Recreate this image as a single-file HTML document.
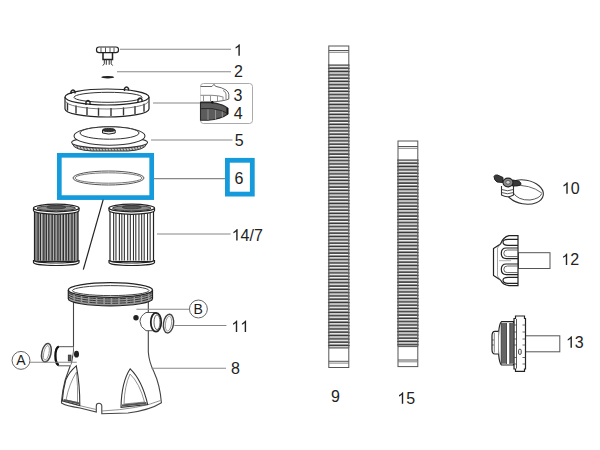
<!DOCTYPE html><html><head><meta charset="utf-8"><style>html,body{margin:0;padding:0;background:#fff;width:600px;height:450px;overflow:hidden}svg{display:block}</style></head><body>
<svg width="600" height="450" viewBox="0 0 600 450">
<rect width="600" height="450" fill="#fff"/>
<path d="M103 52.5 V59.5 H112.5 V52.5" fill="#fff" stroke="#222" stroke-width="1.5"/>
<path d="M104.3 59.5 V63.8 L102.8 65.6 M106.3 59.5 V64.8 M109.2 59.5 V64.8 M111.2 59.5 V63.8 L112.7 65.6" stroke="#333" stroke-width="1" fill="none"/>
<rect x="96.5" y="47" width="22" height="5.6" rx="2.6" fill="#fff" stroke="#222" stroke-width="1.2"/>
<line x1="101" y1="47.5" x2="101" y2="52" stroke="#444" stroke-width="0.9"/>
<line x1="105.5" y1="47.5" x2="105.5" y2="52" stroke="#444" stroke-width="0.9"/>
<line x1="110" y1="47.5" x2="110" y2="52" stroke="#444" stroke-width="0.9"/>
<line x1="114" y1="47.5" x2="114" y2="52" stroke="#444" stroke-width="0.9"/>
<ellipse cx="107.7" cy="77.2" rx="6.4" ry="1.3" fill="#222"/>
<path d="M65 97 V109 A42 8 0 0 0 149 109 V97" fill="#fff" stroke="#222" stroke-width="1.2"/>
<line x1="67.5" y1="102.7" x2="67.5" y2="110.7" stroke="#333" stroke-width="1.4"/>
<line x1="76" y1="105.4" x2="76" y2="113.4" stroke="#333" stroke-width="1.4"/>
<line x1="87" y1="107.0" x2="87" y2="115.0" stroke="#333" stroke-width="1.4"/>
<line x1="98.5" y1="107.8" x2="98.5" y2="115.8" stroke="#333" stroke-width="1.4"/>
<line x1="111" y1="108.0" x2="111" y2="116.0" stroke="#333" stroke-width="1.4"/>
<line x1="123.5" y1="107.4" x2="123.5" y2="115.4" stroke="#333" stroke-width="1.4"/>
<line x1="135" y1="106.0" x2="135" y2="114.0" stroke="#333" stroke-width="1.4"/>
<line x1="144" y1="103.8" x2="144" y2="111.8" stroke="#333" stroke-width="1.4"/>
<path d="M65.5 101 A41.5 8 0 0 0 148.5 101" fill="none" stroke="#555" stroke-width="0.8"/>
<ellipse cx="107" cy="97" rx="42" ry="8" fill="#fff" stroke="#222" stroke-width="1.2"/>
<ellipse cx="108" cy="97.3" rx="34" ry="5" fill="#fff" stroke="#333" stroke-width="1"/>
<path d="M71 94 V91.5 Q73 88.5 75 91.5 V93.5 M124.5 91 V88.5 Q126.5 85.5 128.5 88.5 V90.5 M138 102 V99.5 Q140 96.5 142 99.5 V101 M86 105 V102 Q88 99 90 102 V104.5" stroke="#222" stroke-width="1.4" fill="none"/>
<rect x="200.5" y="83.5" width="52" height="40" rx="3" fill="none" stroke="#aaa" stroke-width="1"/>
<path d="M200.5 86.5 H212 L214 84.3 L215.5 86.3 Q222 87.5 226 90 Q228.8 92 228.8 94.5 V99 Q226 100.3 222 100.8 L215 101.8 H200.5" fill="#fff" stroke="#666" stroke-width="1"/>
<path d="M200.5 95.3 H212 Q220 95.6 223.5 97.2 M223 90.5 Q225.5 91 226 94 V99.5" stroke="#777" stroke-width="0.9" fill="none"/>
<path d="M203.5 95.5 V101.5 M210.5 95.5 V101.5 M217.5 96 V101.3 M223 97.5 V100.8" stroke="#888" stroke-width="0.9" fill="none"/>
<path d="M200.5 102.6 H211 Q222 103.6 227.5 108 V114.2 Q221 119 208 120.3 H200.5 Z" fill="#5c5c5c" stroke="#2a2a2a" stroke-width="1.1"/>
<path d="M227.5 108 V114.2" stroke="#111" stroke-width="2"/>
<path d="M200.5 108.6 H212 Q222 110 227 113" stroke="#2a2a2a" stroke-width="1" fill="none"/>
<path d="M208 109.3 V120 M215.5 110 V119.6 M222.3 111.5 V117.5" stroke="#9a9a9a" stroke-width="0.9" fill="none"/>
<circle cx="212.3" cy="102.3" r="1.2" fill="#111"/>
<clipPath id="skirt"><path d="M72.5 144 Q74 150 92 151 H128 Q145 150 146.5 144 Z"/></clipPath>
<path d="M72.5 144 Q74 150 92 151 H128 Q145 150 146.5 144 Z" fill="#c4c4c4" stroke="#333" stroke-width="1"/>
<g clip-path="url(#skirt)"><line x1="70" y1="144" x2="73" y2="151" stroke="#444" stroke-width="0.8"/><line x1="73" y1="144" x2="76" y2="151" stroke="#444" stroke-width="0.8"/><line x1="76" y1="144" x2="79" y2="151" stroke="#444" stroke-width="0.8"/><line x1="79" y1="144" x2="82" y2="151" stroke="#444" stroke-width="0.8"/><line x1="82" y1="144" x2="85" y2="151" stroke="#444" stroke-width="0.8"/><line x1="85" y1="144" x2="88" y2="151" stroke="#444" stroke-width="0.8"/><line x1="88" y1="144" x2="91" y2="151" stroke="#444" stroke-width="0.8"/><line x1="91" y1="144" x2="94" y2="151" stroke="#444" stroke-width="0.8"/><line x1="94" y1="144" x2="97" y2="151" stroke="#444" stroke-width="0.8"/><line x1="97" y1="144" x2="100" y2="151" stroke="#444" stroke-width="0.8"/><line x1="100" y1="144" x2="103" y2="151" stroke="#444" stroke-width="0.8"/><line x1="103" y1="144" x2="106" y2="151" stroke="#444" stroke-width="0.8"/><line x1="106" y1="144" x2="109" y2="151" stroke="#444" stroke-width="0.8"/><line x1="109" y1="144" x2="112" y2="151" stroke="#444" stroke-width="0.8"/><line x1="112" y1="144" x2="115" y2="151" stroke="#444" stroke-width="0.8"/><line x1="115" y1="144" x2="118" y2="151" stroke="#444" stroke-width="0.8"/><line x1="118" y1="144" x2="121" y2="151" stroke="#444" stroke-width="0.8"/><line x1="121" y1="144" x2="124" y2="151" stroke="#444" stroke-width="0.8"/><line x1="124" y1="144" x2="127" y2="151" stroke="#444" stroke-width="0.8"/><line x1="127" y1="144" x2="130" y2="151" stroke="#444" stroke-width="0.8"/><line x1="130" y1="144" x2="133" y2="151" stroke="#444" stroke-width="0.8"/><line x1="133" y1="144" x2="136" y2="151" stroke="#444" stroke-width="0.8"/><line x1="136" y1="144" x2="139" y2="151" stroke="#444" stroke-width="0.8"/><line x1="139" y1="144" x2="142" y2="151" stroke="#444" stroke-width="0.8"/><line x1="142" y1="144" x2="145" y2="151" stroke="#444" stroke-width="0.8"/><line x1="145" y1="144" x2="148" y2="151" stroke="#444" stroke-width="0.8"/></g>
<ellipse cx="109.6" cy="142.5" rx="38" ry="5.8" fill="#fff" stroke="#333" stroke-width="1.1"/>
<ellipse cx="109.5" cy="136" rx="35.5" ry="9.2" fill="#fff" stroke="#333" stroke-width="1.1"/>
<ellipse cx="109.5" cy="133" rx="29.5" ry="6.2" fill="#fff" stroke="#333" stroke-width="1"/>
<path d="M102.5 130 V133 Q108.8 135.2 115.2 133 V130" fill="#eee" stroke="#222" stroke-width="1"/>
<ellipse cx="108.8" cy="130" rx="6.3" ry="1.6" fill="#333" stroke="#222" stroke-width="0.9"/>
<rect x="59.3" y="155.3" width="92.4" height="42.3" fill="none" stroke="#159bdb" stroke-width="4.7"/>
<rect x="227.4" y="160.3" width="24.9" height="33.8" fill="none" stroke="#159bdb" stroke-width="4.8"/>
<ellipse cx="108.5" cy="178" rx="35.5" ry="7" fill="none" stroke="#555" stroke-width="1"/>
<ellipse cx="108.5" cy="178" rx="33.5" ry="5.2" fill="none" stroke="#666" stroke-width="0.9"/>
<rect x="34.5" y="209" width="43.5" height="52.5" fill="#858585" stroke="#222" stroke-width="1.2"/>
<line x1="39.23" y1="211" x2="39.23" y2="260.5" stroke="#c4c4c4" stroke-width="0.9"/>
<line x1="38.13" y1="211" x2="38.13" y2="260.5" stroke="#2a2a2a" stroke-width="1.1"/>
<line x1="41.57" y1="211" x2="41.57" y2="260.5" stroke="#c4c4c4" stroke-width="0.9"/>
<line x1="40.47" y1="211" x2="40.47" y2="260.5" stroke="#2a2a2a" stroke-width="1.1"/>
<line x1="45.00" y1="211" x2="45.00" y2="260.5" stroke="#c4c4c4" stroke-width="0.9"/>
<line x1="43.90" y1="211" x2="43.90" y2="260.5" stroke="#2a2a2a" stroke-width="1.1"/>
<line x1="47.43" y1="211" x2="47.43" y2="260.5" stroke="#c4c4c4" stroke-width="0.9"/>
<line x1="46.33" y1="211" x2="46.33" y2="260.5" stroke="#2a2a2a" stroke-width="1.1"/>
<line x1="49.97" y1="211" x2="49.97" y2="260.5" stroke="#c4c4c4" stroke-width="0.9"/>
<line x1="48.87" y1="211" x2="48.87" y2="260.5" stroke="#2a2a2a" stroke-width="1.1"/>
<line x1="53.30" y1="211" x2="53.30" y2="260.5" stroke="#c4c4c4" stroke-width="0.9"/>
<line x1="52.20" y1="211" x2="52.20" y2="260.5" stroke="#2a2a2a" stroke-width="1.1"/>
<line x1="55.93" y1="211" x2="55.93" y2="260.5" stroke="#c4c4c4" stroke-width="0.9"/>
<line x1="54.83" y1="211" x2="54.83" y2="260.5" stroke="#2a2a2a" stroke-width="1.1"/>
<line x1="59.07" y1="211" x2="59.07" y2="260.5" stroke="#c4c4c4" stroke-width="0.9"/>
<line x1="57.97" y1="211" x2="57.97" y2="260.5" stroke="#2a2a2a" stroke-width="1.1"/>
<line x1="61.40" y1="211" x2="61.40" y2="260.5" stroke="#c4c4c4" stroke-width="0.9"/>
<line x1="60.30" y1="211" x2="60.30" y2="260.5" stroke="#2a2a2a" stroke-width="1.1"/>
<line x1="64.53" y1="211" x2="64.53" y2="260.5" stroke="#c4c4c4" stroke-width="0.9"/>
<line x1="63.43" y1="211" x2="63.43" y2="260.5" stroke="#2a2a2a" stroke-width="1.1"/>
<line x1="67.27" y1="211" x2="67.27" y2="260.5" stroke="#c4c4c4" stroke-width="0.9"/>
<line x1="66.17" y1="211" x2="66.17" y2="260.5" stroke="#2a2a2a" stroke-width="1.1"/>
<line x1="69.80" y1="211" x2="69.80" y2="260.5" stroke="#c4c4c4" stroke-width="0.9"/>
<line x1="68.70" y1="211" x2="68.70" y2="260.5" stroke="#2a2a2a" stroke-width="1.1"/>
<line x1="73.13" y1="211" x2="73.13" y2="260.5" stroke="#c4c4c4" stroke-width="0.9"/>
<line x1="72.03" y1="211" x2="72.03" y2="260.5" stroke="#2a2a2a" stroke-width="1.1"/>
<line x1="75.77" y1="211" x2="75.77" y2="260.5" stroke="#c4c4c4" stroke-width="0.9"/>
<line x1="74.67" y1="211" x2="74.67" y2="260.5" stroke="#2a2a2a" stroke-width="1.1"/>
<path d="M33.5 208 V210.5 A22.75 3.8 0 0 0 79 210.5 V208" fill="#fff" stroke="#222" stroke-width="1.2"/>
<ellipse cx="56.25" cy="208" rx="22.75" ry="3.8" fill="#fff" stroke="#222" stroke-width="1.3"/>
<ellipse cx="56.25" cy="208.2" rx="19.25" ry="2.6" fill="#8a8a8a" stroke="#333" stroke-width="0.9"/>
<ellipse cx="56.25" cy="207.2" rx="9.555" ry="1.6" fill="#555" stroke="#333" stroke-width="0.8"/>
<path d="M33.5 260.0 V262.5 A22.75 3 0 0 0 79 262.5 V260.0 A22.75 3 0 0 1 33.5 260.0Z" fill="#fff" stroke="#222" stroke-width="1.2"/>
<rect x="110" y="209" width="43.5" height="52.5" fill="#fff" stroke="#222" stroke-width="1.2"/>
<line x1="113.63" y1="211" x2="113.63" y2="260.5" stroke="#333" stroke-width="1.1"/>
<line x1="115.97" y1="211" x2="115.97" y2="260.5" stroke="#333" stroke-width="1.1"/>
<line x1="119.40" y1="211" x2="119.40" y2="260.5" stroke="#333" stroke-width="1.1"/>
<line x1="121.83" y1="211" x2="121.83" y2="260.5" stroke="#333" stroke-width="1.1"/>
<line x1="124.37" y1="211" x2="124.37" y2="260.5" stroke="#333" stroke-width="1.1"/>
<line x1="127.70" y1="211" x2="127.70" y2="260.5" stroke="#333" stroke-width="1.1"/>
<line x1="130.33" y1="211" x2="130.33" y2="260.5" stroke="#333" stroke-width="1.1"/>
<line x1="133.47" y1="211" x2="133.47" y2="260.5" stroke="#333" stroke-width="1.1"/>
<line x1="135.80" y1="211" x2="135.80" y2="260.5" stroke="#333" stroke-width="1.1"/>
<line x1="138.93" y1="211" x2="138.93" y2="260.5" stroke="#333" stroke-width="1.1"/>
<line x1="141.67" y1="211" x2="141.67" y2="260.5" stroke="#333" stroke-width="1.1"/>
<line x1="144.20" y1="211" x2="144.20" y2="260.5" stroke="#333" stroke-width="1.1"/>
<line x1="147.53" y1="211" x2="147.53" y2="260.5" stroke="#333" stroke-width="1.1"/>
<line x1="150.17" y1="211" x2="150.17" y2="260.5" stroke="#333" stroke-width="1.1"/>
<path d="M109 208 V210.5 A22.75 3.8 0 0 0 154.5 210.5 V208" fill="#fff" stroke="#222" stroke-width="1.2"/>
<ellipse cx="131.75" cy="208" rx="22.75" ry="3.8" fill="#fff" stroke="#222" stroke-width="1.3"/>
<ellipse cx="131.75" cy="208.2" rx="19.25" ry="2.6" fill="#8a8a8a" stroke="#333" stroke-width="0.9"/>
<ellipse cx="131.75" cy="207.2" rx="9.555" ry="1.6" fill="#555" stroke="#333" stroke-width="0.8"/>
<path d="M109 260.0 V262.5 A22.75 3 0 0 0 154.5 262.5 V260.0 A22.75 3 0 0 1 109 260.0Z" fill="#fff" stroke="#222" stroke-width="1.2"/>
<line x1="103.2" y1="199.7" x2="83.3" y2="269.7" stroke="#222" stroke-width="1.2"/>
<path d="M73.5 298 V347 Q73.3 354 71.9 361 L65.2 380 Q62.5 390 61.5 401 V403 Q66 406 80 408 L96.3 412 V406 A2.5 2.5 0 0 1 101.8 406 V413.7 L128 413 Q150 410 161.4 402.7 Q160 385 154 372 Q149 362 148.3 352 V298" fill="#fff" stroke="#444" stroke-width="1.1"/>
<path d="M62 401 Q80 406 96.3 409.5 M101.8 411 Q140 409 160.5 400.5" fill="none" stroke="#777" stroke-width="0.8"/>
<path d="M68.3 290 V298.8 A42.1 7 0 0 0 152.5 298.8 V290" fill="#9a9a9a" stroke="#222" stroke-width="1.2"/>
<path d="M68.5 292.2 A42 7.2 0 0 0 152.3 292.2" stroke="#333" stroke-width="1" fill="none" stroke-dasharray="6 1.5"/>
<path d="M68.5 294.4 A42 7.2 0 0 0 152.3 294.4" stroke="#333" stroke-width="1" fill="none" stroke-dasharray="6 1.5"/>
<path d="M68.5 296.6 A42 7.2 0 0 0 152.3 296.6" stroke="#333" stroke-width="1" fill="none" stroke-dasharray="6 1.5"/>
<ellipse cx="110.4" cy="290" rx="42.1" ry="7.3" fill="#fff" stroke="#222" stroke-width="1.3"/>
<ellipse cx="110.7" cy="290.6" rx="38.3" ry="5" fill="#fff" stroke="#444" stroke-width="1"/>
<path d="M76.3 365.8 Q69 372 65.7 380 Q63 390 62.3 400.9 L79.8 405.5 Q80 385 76.3 365.8 Z" fill="#fff" stroke="#333" stroke-width="1.1"/>
<path d="M76.5 372 Q69 384 66 400 L77.5 402.5 Q78 386 76.5 372 Z" fill="none" stroke="#777" stroke-width="0.8"/>
<path d="M130.2 368.8 Q121.5 382 121 407.3 L147.7 404.5 Q142 380 130.2 368.8 Z" fill="#fff" stroke="#333" stroke-width="1.1"/>
<path d="M130 374 Q124.5 386 124 404 L144.5 402 Q139.5 383 130 374 Z" fill="none" stroke="#777" stroke-width="0.8"/>
<path d="M63.5 400 L79.5 403.5 M122 405.5 L146.5 403" stroke="#555" stroke-width="1.8"/>
<ellipse cx="46.4" cy="352.8" rx="4.6" ry="9.4" transform="rotate(12 46.4 352.8)" fill="none" stroke="#444" stroke-width="1.5"/>
<ellipse cx="46.4" cy="352.8" rx="2.6" ry="7.4" transform="rotate(12 46.4 352.8)" fill="none" stroke="#888" stroke-width="0.8"/>
<path d="M73.5 346.7 H58.5 Q55 346.7 55 356 Q55 365.8 58.5 365.8 H70.5" fill="#fff" stroke="#555" stroke-width="1"/>
<path d="M58.8 346.5 Q55.5 348 55.5 355.8 Q55.5 363.6 58.8 365" fill="none" stroke="#111" stroke-width="2.2"/>
<rect x="68.3" y="355.1" width="2.7" height="5.8" fill="#555" stroke="#333" stroke-width="0.8"/>
<ellipse cx="76.5" cy="354.2" rx="2.5" ry="3.4" fill="#222"/>
<circle cx="21" cy="360.4" r="8.95" fill="#fff" stroke="#666" stroke-width="1"/>
<text x="20.8" y="364.9" font-family="Liberation Sans, sans-serif" font-size="14" fill="#1a1a1a" text-anchor="middle">A</text>
<circle cx="136" cy="317.8" r="2.7" fill="#222"/>
<path d="M156 312.5 H146 Q140 316 140 321.6 Q140 327 146 330.7 H156 Z" fill="#fff" stroke="#555" stroke-width="1"/>
<ellipse cx="156" cy="322.2" rx="5.2" ry="9.4" fill="#fff" stroke="#222" stroke-width="1.8"/>
<ellipse cx="157" cy="322.2" rx="3" ry="7.4" fill="#fff" stroke="#555" stroke-width="0.9"/>
<ellipse cx="168.5" cy="323.6" rx="5" ry="9.4" transform="rotate(8 168.5 323.6)" fill="none" stroke="#444" stroke-width="1.4"/>
<ellipse cx="168.5" cy="323.6" rx="3" ry="7.4" transform="rotate(8 168.5 323.6)" fill="none" stroke="#888" stroke-width="0.8"/>
<circle cx="198.4" cy="309" r="8.95" fill="#fff" stroke="#666" stroke-width="1"/>
<text x="198.2" y="313.8" font-family="Liberation Sans, sans-serif" font-size="14" fill="#1a1a1a" text-anchor="middle">B</text>
<rect x="328.8" y="46" width="20.0" height="321.5" fill="#fff" stroke="#555" stroke-width="1"/>
<line x1="328.8" y1="50.5" x2="348.8" y2="50.5" stroke="#555" stroke-width="1"/>
<line x1="328.8" y1="52.3" x2="348.8" y2="52.3" stroke="#777" stroke-width="0.9"/>
<rect x="328.8" y="65" width="20.0" height="283" fill="#8e8e8e"/>
<path d="M328.40000000000003 65.00 H349.2" stroke="#3a3a3a" stroke-width="1.05" stroke-linecap="round"/>
<path d="M329.6 66.40 H348.0" stroke="#f4f4f4" stroke-width="1"/>
<path d="M328.40000000000003 68.30 H349.2" stroke="#3a3a3a" stroke-width="1.05" stroke-linecap="round"/>
<path d="M329.6 69.70 H348.0" stroke="#f4f4f4" stroke-width="1"/>
<path d="M328.40000000000003 71.60 H349.2" stroke="#3a3a3a" stroke-width="1.05" stroke-linecap="round"/>
<path d="M329.6 73.00 H348.0" stroke="#f4f4f4" stroke-width="1"/>
<path d="M328.40000000000003 74.90 H349.2" stroke="#3a3a3a" stroke-width="1.05" stroke-linecap="round"/>
<path d="M329.6 76.30 H348.0" stroke="#f4f4f4" stroke-width="1"/>
<path d="M328.40000000000003 78.20 H349.2" stroke="#3a3a3a" stroke-width="1.05" stroke-linecap="round"/>
<path d="M329.6 79.60 H348.0" stroke="#f4f4f4" stroke-width="1"/>
<path d="M328.40000000000003 81.50 H349.2" stroke="#3a3a3a" stroke-width="1.05" stroke-linecap="round"/>
<path d="M329.6 82.90 H348.0" stroke="#f4f4f4" stroke-width="1"/>
<path d="M328.40000000000003 84.80 H349.2" stroke="#3a3a3a" stroke-width="1.05" stroke-linecap="round"/>
<path d="M329.6 86.20 H348.0" stroke="#f4f4f4" stroke-width="1"/>
<path d="M328.40000000000003 88.10 H349.2" stroke="#3a3a3a" stroke-width="1.05" stroke-linecap="round"/>
<path d="M329.6 89.50 H348.0" stroke="#f4f4f4" stroke-width="1"/>
<path d="M328.40000000000003 91.40 H349.2" stroke="#3a3a3a" stroke-width="1.05" stroke-linecap="round"/>
<path d="M329.6 92.80 H348.0" stroke="#f4f4f4" stroke-width="1"/>
<path d="M328.40000000000003 94.70 H349.2" stroke="#3a3a3a" stroke-width="1.05" stroke-linecap="round"/>
<path d="M329.6 96.10 H348.0" stroke="#f4f4f4" stroke-width="1"/>
<path d="M328.40000000000003 98.00 H349.2" stroke="#3a3a3a" stroke-width="1.05" stroke-linecap="round"/>
<path d="M329.6 99.40 H348.0" stroke="#f4f4f4" stroke-width="1"/>
<path d="M328.40000000000003 101.30 H349.2" stroke="#3a3a3a" stroke-width="1.05" stroke-linecap="round"/>
<path d="M329.6 102.70 H348.0" stroke="#f4f4f4" stroke-width="1"/>
<path d="M328.40000000000003 104.60 H349.2" stroke="#3a3a3a" stroke-width="1.05" stroke-linecap="round"/>
<path d="M329.6 106.00 H348.0" stroke="#f4f4f4" stroke-width="1"/>
<path d="M328.40000000000003 107.90 H349.2" stroke="#3a3a3a" stroke-width="1.05" stroke-linecap="round"/>
<path d="M329.6 109.30 H348.0" stroke="#f4f4f4" stroke-width="1"/>
<path d="M328.40000000000003 111.20 H349.2" stroke="#3a3a3a" stroke-width="1.05" stroke-linecap="round"/>
<path d="M329.6 112.60 H348.0" stroke="#f4f4f4" stroke-width="1"/>
<path d="M328.40000000000003 114.50 H349.2" stroke="#3a3a3a" stroke-width="1.05" stroke-linecap="round"/>
<path d="M329.6 115.90 H348.0" stroke="#f4f4f4" stroke-width="1"/>
<path d="M328.40000000000003 117.80 H349.2" stroke="#3a3a3a" stroke-width="1.05" stroke-linecap="round"/>
<path d="M329.6 119.20 H348.0" stroke="#f4f4f4" stroke-width="1"/>
<path d="M328.40000000000003 121.10 H349.2" stroke="#3a3a3a" stroke-width="1.05" stroke-linecap="round"/>
<path d="M329.6 122.50 H348.0" stroke="#f4f4f4" stroke-width="1"/>
<path d="M328.40000000000003 124.40 H349.2" stroke="#3a3a3a" stroke-width="1.05" stroke-linecap="round"/>
<path d="M329.6 125.80 H348.0" stroke="#f4f4f4" stroke-width="1"/>
<path d="M328.40000000000003 127.70 H349.2" stroke="#3a3a3a" stroke-width="1.05" stroke-linecap="round"/>
<path d="M329.6 129.10 H348.0" stroke="#f4f4f4" stroke-width="1"/>
<path d="M328.40000000000003 131.00 H349.2" stroke="#3a3a3a" stroke-width="1.05" stroke-linecap="round"/>
<path d="M329.6 132.40 H348.0" stroke="#f4f4f4" stroke-width="1"/>
<path d="M328.40000000000003 134.30 H349.2" stroke="#3a3a3a" stroke-width="1.05" stroke-linecap="round"/>
<path d="M329.6 135.70 H348.0" stroke="#f4f4f4" stroke-width="1"/>
<path d="M328.40000000000003 137.60 H349.2" stroke="#3a3a3a" stroke-width="1.05" stroke-linecap="round"/>
<path d="M329.6 139.00 H348.0" stroke="#f4f4f4" stroke-width="1"/>
<path d="M328.40000000000003 140.90 H349.2" stroke="#3a3a3a" stroke-width="1.05" stroke-linecap="round"/>
<path d="M329.6 142.30 H348.0" stroke="#f4f4f4" stroke-width="1"/>
<path d="M328.40000000000003 144.20 H349.2" stroke="#3a3a3a" stroke-width="1.05" stroke-linecap="round"/>
<path d="M329.6 145.60 H348.0" stroke="#f4f4f4" stroke-width="1"/>
<path d="M328.40000000000003 147.50 H349.2" stroke="#3a3a3a" stroke-width="1.05" stroke-linecap="round"/>
<path d="M329.6 148.90 H348.0" stroke="#f4f4f4" stroke-width="1"/>
<path d="M328.40000000000003 150.80 H349.2" stroke="#3a3a3a" stroke-width="1.05" stroke-linecap="round"/>
<path d="M329.6 152.20 H348.0" stroke="#f4f4f4" stroke-width="1"/>
<path d="M328.40000000000003 154.10 H349.2" stroke="#3a3a3a" stroke-width="1.05" stroke-linecap="round"/>
<path d="M329.6 155.50 H348.0" stroke="#f4f4f4" stroke-width="1"/>
<path d="M328.40000000000003 157.40 H349.2" stroke="#3a3a3a" stroke-width="1.05" stroke-linecap="round"/>
<path d="M329.6 158.80 H348.0" stroke="#f4f4f4" stroke-width="1"/>
<path d="M328.40000000000003 160.70 H349.2" stroke="#3a3a3a" stroke-width="1.05" stroke-linecap="round"/>
<path d="M329.6 162.10 H348.0" stroke="#f4f4f4" stroke-width="1"/>
<path d="M328.40000000000003 164.00 H349.2" stroke="#3a3a3a" stroke-width="1.05" stroke-linecap="round"/>
<path d="M329.6 165.40 H348.0" stroke="#f4f4f4" stroke-width="1"/>
<path d="M328.40000000000003 167.30 H349.2" stroke="#3a3a3a" stroke-width="1.05" stroke-linecap="round"/>
<path d="M329.6 168.70 H348.0" stroke="#f4f4f4" stroke-width="1"/>
<path d="M328.40000000000003 170.60 H349.2" stroke="#3a3a3a" stroke-width="1.05" stroke-linecap="round"/>
<path d="M329.6 172.00 H348.0" stroke="#f4f4f4" stroke-width="1"/>
<path d="M328.40000000000003 173.90 H349.2" stroke="#3a3a3a" stroke-width="1.05" stroke-linecap="round"/>
<path d="M329.6 175.30 H348.0" stroke="#f4f4f4" stroke-width="1"/>
<path d="M328.40000000000003 177.20 H349.2" stroke="#3a3a3a" stroke-width="1.05" stroke-linecap="round"/>
<path d="M329.6 178.60 H348.0" stroke="#f4f4f4" stroke-width="1"/>
<path d="M328.40000000000003 180.50 H349.2" stroke="#3a3a3a" stroke-width="1.05" stroke-linecap="round"/>
<path d="M329.6 181.90 H348.0" stroke="#f4f4f4" stroke-width="1"/>
<path d="M328.40000000000003 183.80 H349.2" stroke="#3a3a3a" stroke-width="1.05" stroke-linecap="round"/>
<path d="M329.6 185.20 H348.0" stroke="#f4f4f4" stroke-width="1"/>
<path d="M328.40000000000003 187.10 H349.2" stroke="#3a3a3a" stroke-width="1.05" stroke-linecap="round"/>
<path d="M329.6 188.50 H348.0" stroke="#f4f4f4" stroke-width="1"/>
<path d="M328.40000000000003 190.40 H349.2" stroke="#3a3a3a" stroke-width="1.05" stroke-linecap="round"/>
<path d="M329.6 191.80 H348.0" stroke="#f4f4f4" stroke-width="1"/>
<path d="M328.40000000000003 193.70 H349.2" stroke="#3a3a3a" stroke-width="1.05" stroke-linecap="round"/>
<path d="M329.6 195.10 H348.0" stroke="#f4f4f4" stroke-width="1"/>
<path d="M328.40000000000003 197.00 H349.2" stroke="#3a3a3a" stroke-width="1.05" stroke-linecap="round"/>
<path d="M329.6 198.40 H348.0" stroke="#f4f4f4" stroke-width="1"/>
<path d="M328.40000000000003 200.30 H349.2" stroke="#3a3a3a" stroke-width="1.05" stroke-linecap="round"/>
<path d="M329.6 201.70 H348.0" stroke="#f4f4f4" stroke-width="1"/>
<path d="M328.40000000000003 203.60 H349.2" stroke="#3a3a3a" stroke-width="1.05" stroke-linecap="round"/>
<path d="M329.6 205.00 H348.0" stroke="#f4f4f4" stroke-width="1"/>
<path d="M328.40000000000003 206.90 H349.2" stroke="#3a3a3a" stroke-width="1.05" stroke-linecap="round"/>
<path d="M329.6 208.30 H348.0" stroke="#f4f4f4" stroke-width="1"/>
<path d="M328.40000000000003 210.20 H349.2" stroke="#3a3a3a" stroke-width="1.05" stroke-linecap="round"/>
<path d="M329.6 211.60 H348.0" stroke="#f4f4f4" stroke-width="1"/>
<path d="M328.40000000000003 213.50 H349.2" stroke="#3a3a3a" stroke-width="1.05" stroke-linecap="round"/>
<path d="M329.6 214.90 H348.0" stroke="#f4f4f4" stroke-width="1"/>
<path d="M328.40000000000003 216.80 H349.2" stroke="#3a3a3a" stroke-width="1.05" stroke-linecap="round"/>
<path d="M329.6 218.20 H348.0" stroke="#f4f4f4" stroke-width="1"/>
<path d="M328.40000000000003 220.10 H349.2" stroke="#3a3a3a" stroke-width="1.05" stroke-linecap="round"/>
<path d="M329.6 221.50 H348.0" stroke="#f4f4f4" stroke-width="1"/>
<path d="M328.40000000000003 223.40 H349.2" stroke="#3a3a3a" stroke-width="1.05" stroke-linecap="round"/>
<path d="M329.6 224.80 H348.0" stroke="#f4f4f4" stroke-width="1"/>
<path d="M328.40000000000003 226.70 H349.2" stroke="#3a3a3a" stroke-width="1.05" stroke-linecap="round"/>
<path d="M329.6 228.10 H348.0" stroke="#f4f4f4" stroke-width="1"/>
<path d="M328.40000000000003 230.00 H349.2" stroke="#3a3a3a" stroke-width="1.05" stroke-linecap="round"/>
<path d="M329.6 231.40 H348.0" stroke="#f4f4f4" stroke-width="1"/>
<path d="M328.40000000000003 233.30 H349.2" stroke="#3a3a3a" stroke-width="1.05" stroke-linecap="round"/>
<path d="M329.6 234.70 H348.0" stroke="#f4f4f4" stroke-width="1"/>
<path d="M328.40000000000003 236.60 H349.2" stroke="#3a3a3a" stroke-width="1.05" stroke-linecap="round"/>
<path d="M329.6 238.00 H348.0" stroke="#f4f4f4" stroke-width="1"/>
<path d="M328.40000000000003 239.90 H349.2" stroke="#3a3a3a" stroke-width="1.05" stroke-linecap="round"/>
<path d="M329.6 241.30 H348.0" stroke="#f4f4f4" stroke-width="1"/>
<path d="M328.40000000000003 243.20 H349.2" stroke="#3a3a3a" stroke-width="1.05" stroke-linecap="round"/>
<path d="M329.6 244.60 H348.0" stroke="#f4f4f4" stroke-width="1"/>
<path d="M328.40000000000003 246.50 H349.2" stroke="#3a3a3a" stroke-width="1.05" stroke-linecap="round"/>
<path d="M329.6 247.90 H348.0" stroke="#f4f4f4" stroke-width="1"/>
<path d="M328.40000000000003 249.80 H349.2" stroke="#3a3a3a" stroke-width="1.05" stroke-linecap="round"/>
<path d="M329.6 251.20 H348.0" stroke="#f4f4f4" stroke-width="1"/>
<path d="M328.40000000000003 253.10 H349.2" stroke="#3a3a3a" stroke-width="1.05" stroke-linecap="round"/>
<path d="M329.6 254.50 H348.0" stroke="#f4f4f4" stroke-width="1"/>
<path d="M328.40000000000003 256.40 H349.2" stroke="#3a3a3a" stroke-width="1.05" stroke-linecap="round"/>
<path d="M329.6 257.80 H348.0" stroke="#f4f4f4" stroke-width="1"/>
<path d="M328.40000000000003 259.70 H349.2" stroke="#3a3a3a" stroke-width="1.05" stroke-linecap="round"/>
<path d="M329.6 261.10 H348.0" stroke="#f4f4f4" stroke-width="1"/>
<path d="M328.40000000000003 263.00 H349.2" stroke="#3a3a3a" stroke-width="1.05" stroke-linecap="round"/>
<path d="M329.6 264.40 H348.0" stroke="#f4f4f4" stroke-width="1"/>
<path d="M328.40000000000003 266.30 H349.2" stroke="#3a3a3a" stroke-width="1.05" stroke-linecap="round"/>
<path d="M329.6 267.70 H348.0" stroke="#f4f4f4" stroke-width="1"/>
<path d="M328.40000000000003 269.60 H349.2" stroke="#3a3a3a" stroke-width="1.05" stroke-linecap="round"/>
<path d="M329.6 271.00 H348.0" stroke="#f4f4f4" stroke-width="1"/>
<path d="M328.40000000000003 272.90 H349.2" stroke="#3a3a3a" stroke-width="1.05" stroke-linecap="round"/>
<path d="M329.6 274.30 H348.0" stroke="#f4f4f4" stroke-width="1"/>
<path d="M328.40000000000003 276.20 H349.2" stroke="#3a3a3a" stroke-width="1.05" stroke-linecap="round"/>
<path d="M329.6 277.60 H348.0" stroke="#f4f4f4" stroke-width="1"/>
<path d="M328.40000000000003 279.50 H349.2" stroke="#3a3a3a" stroke-width="1.05" stroke-linecap="round"/>
<path d="M329.6 280.90 H348.0" stroke="#f4f4f4" stroke-width="1"/>
<path d="M328.40000000000003 282.80 H349.2" stroke="#3a3a3a" stroke-width="1.05" stroke-linecap="round"/>
<path d="M329.6 284.20 H348.0" stroke="#f4f4f4" stroke-width="1"/>
<path d="M328.40000000000003 286.10 H349.2" stroke="#3a3a3a" stroke-width="1.05" stroke-linecap="round"/>
<path d="M329.6 287.50 H348.0" stroke="#f4f4f4" stroke-width="1"/>
<path d="M328.40000000000003 289.40 H349.2" stroke="#3a3a3a" stroke-width="1.05" stroke-linecap="round"/>
<path d="M329.6 290.80 H348.0" stroke="#f4f4f4" stroke-width="1"/>
<path d="M328.40000000000003 292.70 H349.2" stroke="#3a3a3a" stroke-width="1.05" stroke-linecap="round"/>
<path d="M329.6 294.10 H348.0" stroke="#f4f4f4" stroke-width="1"/>
<path d="M328.40000000000003 296.00 H349.2" stroke="#3a3a3a" stroke-width="1.05" stroke-linecap="round"/>
<path d="M329.6 297.40 H348.0" stroke="#f4f4f4" stroke-width="1"/>
<path d="M328.40000000000003 299.30 H349.2" stroke="#3a3a3a" stroke-width="1.05" stroke-linecap="round"/>
<path d="M329.6 300.70 H348.0" stroke="#f4f4f4" stroke-width="1"/>
<path d="M328.40000000000003 302.60 H349.2" stroke="#3a3a3a" stroke-width="1.05" stroke-linecap="round"/>
<path d="M329.6 304.00 H348.0" stroke="#f4f4f4" stroke-width="1"/>
<path d="M328.40000000000003 305.90 H349.2" stroke="#3a3a3a" stroke-width="1.05" stroke-linecap="round"/>
<path d="M329.6 307.30 H348.0" stroke="#f4f4f4" stroke-width="1"/>
<path d="M328.40000000000003 309.20 H349.2" stroke="#3a3a3a" stroke-width="1.05" stroke-linecap="round"/>
<path d="M329.6 310.60 H348.0" stroke="#f4f4f4" stroke-width="1"/>
<path d="M328.40000000000003 312.50 H349.2" stroke="#3a3a3a" stroke-width="1.05" stroke-linecap="round"/>
<path d="M329.6 313.90 H348.0" stroke="#f4f4f4" stroke-width="1"/>
<path d="M328.40000000000003 315.80 H349.2" stroke="#3a3a3a" stroke-width="1.05" stroke-linecap="round"/>
<path d="M329.6 317.20 H348.0" stroke="#f4f4f4" stroke-width="1"/>
<path d="M328.40000000000003 319.10 H349.2" stroke="#3a3a3a" stroke-width="1.05" stroke-linecap="round"/>
<path d="M329.6 320.50 H348.0" stroke="#f4f4f4" stroke-width="1"/>
<path d="M328.40000000000003 322.40 H349.2" stroke="#3a3a3a" stroke-width="1.05" stroke-linecap="round"/>
<path d="M329.6 323.80 H348.0" stroke="#f4f4f4" stroke-width="1"/>
<path d="M328.40000000000003 325.70 H349.2" stroke="#3a3a3a" stroke-width="1.05" stroke-linecap="round"/>
<path d="M329.6 327.10 H348.0" stroke="#f4f4f4" stroke-width="1"/>
<path d="M328.40000000000003 329.00 H349.2" stroke="#3a3a3a" stroke-width="1.05" stroke-linecap="round"/>
<path d="M329.6 330.40 H348.0" stroke="#f4f4f4" stroke-width="1"/>
<path d="M328.40000000000003 332.30 H349.2" stroke="#3a3a3a" stroke-width="1.05" stroke-linecap="round"/>
<path d="M329.6 333.70 H348.0" stroke="#f4f4f4" stroke-width="1"/>
<path d="M328.40000000000003 335.60 H349.2" stroke="#3a3a3a" stroke-width="1.05" stroke-linecap="round"/>
<path d="M329.6 337.00 H348.0" stroke="#f4f4f4" stroke-width="1"/>
<path d="M328.40000000000003 338.90 H349.2" stroke="#3a3a3a" stroke-width="1.05" stroke-linecap="round"/>
<path d="M329.6 340.30 H348.0" stroke="#f4f4f4" stroke-width="1"/>
<path d="M328.40000000000003 342.20 H349.2" stroke="#3a3a3a" stroke-width="1.05" stroke-linecap="round"/>
<path d="M329.6 343.60 H348.0" stroke="#f4f4f4" stroke-width="1"/>
<path d="M328.40000000000003 345.50 H349.2" stroke="#3a3a3a" stroke-width="1.05" stroke-linecap="round"/>
<path d="M329.6 346.90 H348.0" stroke="#f4f4f4" stroke-width="1"/>
<path d="M328.8 65 V348 M348.8 65 V348" stroke="#666" stroke-width="0.7"/>
<line x1="328.8" y1="348" x2="348.8" y2="348" stroke="#555" stroke-width="1"/>
<line x1="328.8" y1="361.3" x2="348.8" y2="361.3" stroke="#555" stroke-width="1"/>
<line x1="328.8" y1="363.1" x2="348.8" y2="363.1" stroke="#777" stroke-width="0.9"/>
<rect x="398" y="141" width="19.80000000000001" height="225.60000000000002" fill="#fff" stroke="#555" stroke-width="1"/>
<line x1="398" y1="146.5" x2="417.8" y2="146.5" stroke="#555" stroke-width="1"/>
<line x1="398" y1="148.3" x2="417.8" y2="148.3" stroke="#777" stroke-width="0.9"/>
<rect x="398" y="160" width="19.80000000000001" height="186.60000000000002" fill="#8e8e8e"/>
<path d="M397.6 160.00 H418.2" stroke="#3a3a3a" stroke-width="1.05" stroke-linecap="round"/>
<path d="M398.8 161.40 H417.0" stroke="#f4f4f4" stroke-width="1"/>
<path d="M397.6 163.30 H418.2" stroke="#3a3a3a" stroke-width="1.05" stroke-linecap="round"/>
<path d="M398.8 164.70 H417.0" stroke="#f4f4f4" stroke-width="1"/>
<path d="M397.6 166.60 H418.2" stroke="#3a3a3a" stroke-width="1.05" stroke-linecap="round"/>
<path d="M398.8 168.00 H417.0" stroke="#f4f4f4" stroke-width="1"/>
<path d="M397.6 169.90 H418.2" stroke="#3a3a3a" stroke-width="1.05" stroke-linecap="round"/>
<path d="M398.8 171.30 H417.0" stroke="#f4f4f4" stroke-width="1"/>
<path d="M397.6 173.20 H418.2" stroke="#3a3a3a" stroke-width="1.05" stroke-linecap="round"/>
<path d="M398.8 174.60 H417.0" stroke="#f4f4f4" stroke-width="1"/>
<path d="M397.6 176.50 H418.2" stroke="#3a3a3a" stroke-width="1.05" stroke-linecap="round"/>
<path d="M398.8 177.90 H417.0" stroke="#f4f4f4" stroke-width="1"/>
<path d="M397.6 179.80 H418.2" stroke="#3a3a3a" stroke-width="1.05" stroke-linecap="round"/>
<path d="M398.8 181.20 H417.0" stroke="#f4f4f4" stroke-width="1"/>
<path d="M397.6 183.10 H418.2" stroke="#3a3a3a" stroke-width="1.05" stroke-linecap="round"/>
<path d="M398.8 184.50 H417.0" stroke="#f4f4f4" stroke-width="1"/>
<path d="M397.6 186.40 H418.2" stroke="#3a3a3a" stroke-width="1.05" stroke-linecap="round"/>
<path d="M398.8 187.80 H417.0" stroke="#f4f4f4" stroke-width="1"/>
<path d="M397.6 189.70 H418.2" stroke="#3a3a3a" stroke-width="1.05" stroke-linecap="round"/>
<path d="M398.8 191.10 H417.0" stroke="#f4f4f4" stroke-width="1"/>
<path d="M397.6 193.00 H418.2" stroke="#3a3a3a" stroke-width="1.05" stroke-linecap="round"/>
<path d="M398.8 194.40 H417.0" stroke="#f4f4f4" stroke-width="1"/>
<path d="M397.6 196.30 H418.2" stroke="#3a3a3a" stroke-width="1.05" stroke-linecap="round"/>
<path d="M398.8 197.70 H417.0" stroke="#f4f4f4" stroke-width="1"/>
<path d="M397.6 199.60 H418.2" stroke="#3a3a3a" stroke-width="1.05" stroke-linecap="round"/>
<path d="M398.8 201.00 H417.0" stroke="#f4f4f4" stroke-width="1"/>
<path d="M397.6 202.90 H418.2" stroke="#3a3a3a" stroke-width="1.05" stroke-linecap="round"/>
<path d="M398.8 204.30 H417.0" stroke="#f4f4f4" stroke-width="1"/>
<path d="M397.6 206.20 H418.2" stroke="#3a3a3a" stroke-width="1.05" stroke-linecap="round"/>
<path d="M398.8 207.60 H417.0" stroke="#f4f4f4" stroke-width="1"/>
<path d="M397.6 209.50 H418.2" stroke="#3a3a3a" stroke-width="1.05" stroke-linecap="round"/>
<path d="M398.8 210.90 H417.0" stroke="#f4f4f4" stroke-width="1"/>
<path d="M397.6 212.80 H418.2" stroke="#3a3a3a" stroke-width="1.05" stroke-linecap="round"/>
<path d="M398.8 214.20 H417.0" stroke="#f4f4f4" stroke-width="1"/>
<path d="M397.6 216.10 H418.2" stroke="#3a3a3a" stroke-width="1.05" stroke-linecap="round"/>
<path d="M398.8 217.50 H417.0" stroke="#f4f4f4" stroke-width="1"/>
<path d="M397.6 219.40 H418.2" stroke="#3a3a3a" stroke-width="1.05" stroke-linecap="round"/>
<path d="M398.8 220.80 H417.0" stroke="#f4f4f4" stroke-width="1"/>
<path d="M397.6 222.70 H418.2" stroke="#3a3a3a" stroke-width="1.05" stroke-linecap="round"/>
<path d="M398.8 224.10 H417.0" stroke="#f4f4f4" stroke-width="1"/>
<path d="M397.6 226.00 H418.2" stroke="#3a3a3a" stroke-width="1.05" stroke-linecap="round"/>
<path d="M398.8 227.40 H417.0" stroke="#f4f4f4" stroke-width="1"/>
<path d="M397.6 229.30 H418.2" stroke="#3a3a3a" stroke-width="1.05" stroke-linecap="round"/>
<path d="M398.8 230.70 H417.0" stroke="#f4f4f4" stroke-width="1"/>
<path d="M397.6 232.60 H418.2" stroke="#3a3a3a" stroke-width="1.05" stroke-linecap="round"/>
<path d="M398.8 234.00 H417.0" stroke="#f4f4f4" stroke-width="1"/>
<path d="M397.6 235.90 H418.2" stroke="#3a3a3a" stroke-width="1.05" stroke-linecap="round"/>
<path d="M398.8 237.30 H417.0" stroke="#f4f4f4" stroke-width="1"/>
<path d="M397.6 239.20 H418.2" stroke="#3a3a3a" stroke-width="1.05" stroke-linecap="round"/>
<path d="M398.8 240.60 H417.0" stroke="#f4f4f4" stroke-width="1"/>
<path d="M397.6 242.50 H418.2" stroke="#3a3a3a" stroke-width="1.05" stroke-linecap="round"/>
<path d="M398.8 243.90 H417.0" stroke="#f4f4f4" stroke-width="1"/>
<path d="M397.6 245.80 H418.2" stroke="#3a3a3a" stroke-width="1.05" stroke-linecap="round"/>
<path d="M398.8 247.20 H417.0" stroke="#f4f4f4" stroke-width="1"/>
<path d="M397.6 249.10 H418.2" stroke="#3a3a3a" stroke-width="1.05" stroke-linecap="round"/>
<path d="M398.8 250.50 H417.0" stroke="#f4f4f4" stroke-width="1"/>
<path d="M397.6 252.40 H418.2" stroke="#3a3a3a" stroke-width="1.05" stroke-linecap="round"/>
<path d="M398.8 253.80 H417.0" stroke="#f4f4f4" stroke-width="1"/>
<path d="M397.6 255.70 H418.2" stroke="#3a3a3a" stroke-width="1.05" stroke-linecap="round"/>
<path d="M398.8 257.10 H417.0" stroke="#f4f4f4" stroke-width="1"/>
<path d="M397.6 259.00 H418.2" stroke="#3a3a3a" stroke-width="1.05" stroke-linecap="round"/>
<path d="M398.8 260.40 H417.0" stroke="#f4f4f4" stroke-width="1"/>
<path d="M397.6 262.30 H418.2" stroke="#3a3a3a" stroke-width="1.05" stroke-linecap="round"/>
<path d="M398.8 263.70 H417.0" stroke="#f4f4f4" stroke-width="1"/>
<path d="M397.6 265.60 H418.2" stroke="#3a3a3a" stroke-width="1.05" stroke-linecap="round"/>
<path d="M398.8 267.00 H417.0" stroke="#f4f4f4" stroke-width="1"/>
<path d="M397.6 268.90 H418.2" stroke="#3a3a3a" stroke-width="1.05" stroke-linecap="round"/>
<path d="M398.8 270.30 H417.0" stroke="#f4f4f4" stroke-width="1"/>
<path d="M397.6 272.20 H418.2" stroke="#3a3a3a" stroke-width="1.05" stroke-linecap="round"/>
<path d="M398.8 273.60 H417.0" stroke="#f4f4f4" stroke-width="1"/>
<path d="M397.6 275.50 H418.2" stroke="#3a3a3a" stroke-width="1.05" stroke-linecap="round"/>
<path d="M398.8 276.90 H417.0" stroke="#f4f4f4" stroke-width="1"/>
<path d="M397.6 278.80 H418.2" stroke="#3a3a3a" stroke-width="1.05" stroke-linecap="round"/>
<path d="M398.8 280.20 H417.0" stroke="#f4f4f4" stroke-width="1"/>
<path d="M397.6 282.10 H418.2" stroke="#3a3a3a" stroke-width="1.05" stroke-linecap="round"/>
<path d="M398.8 283.50 H417.0" stroke="#f4f4f4" stroke-width="1"/>
<path d="M397.6 285.40 H418.2" stroke="#3a3a3a" stroke-width="1.05" stroke-linecap="round"/>
<path d="M398.8 286.80 H417.0" stroke="#f4f4f4" stroke-width="1"/>
<path d="M397.6 288.70 H418.2" stroke="#3a3a3a" stroke-width="1.05" stroke-linecap="round"/>
<path d="M398.8 290.10 H417.0" stroke="#f4f4f4" stroke-width="1"/>
<path d="M397.6 292.00 H418.2" stroke="#3a3a3a" stroke-width="1.05" stroke-linecap="round"/>
<path d="M398.8 293.40 H417.0" stroke="#f4f4f4" stroke-width="1"/>
<path d="M397.6 295.30 H418.2" stroke="#3a3a3a" stroke-width="1.05" stroke-linecap="round"/>
<path d="M398.8 296.70 H417.0" stroke="#f4f4f4" stroke-width="1"/>
<path d="M397.6 298.60 H418.2" stroke="#3a3a3a" stroke-width="1.05" stroke-linecap="round"/>
<path d="M398.8 300.00 H417.0" stroke="#f4f4f4" stroke-width="1"/>
<path d="M397.6 301.90 H418.2" stroke="#3a3a3a" stroke-width="1.05" stroke-linecap="round"/>
<path d="M398.8 303.30 H417.0" stroke="#f4f4f4" stroke-width="1"/>
<path d="M397.6 305.20 H418.2" stroke="#3a3a3a" stroke-width="1.05" stroke-linecap="round"/>
<path d="M398.8 306.60 H417.0" stroke="#f4f4f4" stroke-width="1"/>
<path d="M397.6 308.50 H418.2" stroke="#3a3a3a" stroke-width="1.05" stroke-linecap="round"/>
<path d="M398.8 309.90 H417.0" stroke="#f4f4f4" stroke-width="1"/>
<path d="M397.6 311.80 H418.2" stroke="#3a3a3a" stroke-width="1.05" stroke-linecap="round"/>
<path d="M398.8 313.20 H417.0" stroke="#f4f4f4" stroke-width="1"/>
<path d="M397.6 315.10 H418.2" stroke="#3a3a3a" stroke-width="1.05" stroke-linecap="round"/>
<path d="M398.8 316.50 H417.0" stroke="#f4f4f4" stroke-width="1"/>
<path d="M397.6 318.40 H418.2" stroke="#3a3a3a" stroke-width="1.05" stroke-linecap="round"/>
<path d="M398.8 319.80 H417.0" stroke="#f4f4f4" stroke-width="1"/>
<path d="M397.6 321.70 H418.2" stroke="#3a3a3a" stroke-width="1.05" stroke-linecap="round"/>
<path d="M398.8 323.10 H417.0" stroke="#f4f4f4" stroke-width="1"/>
<path d="M397.6 325.00 H418.2" stroke="#3a3a3a" stroke-width="1.05" stroke-linecap="round"/>
<path d="M398.8 326.40 H417.0" stroke="#f4f4f4" stroke-width="1"/>
<path d="M397.6 328.30 H418.2" stroke="#3a3a3a" stroke-width="1.05" stroke-linecap="round"/>
<path d="M398.8 329.70 H417.0" stroke="#f4f4f4" stroke-width="1"/>
<path d="M397.6 331.60 H418.2" stroke="#3a3a3a" stroke-width="1.05" stroke-linecap="round"/>
<path d="M398.8 333.00 H417.0" stroke="#f4f4f4" stroke-width="1"/>
<path d="M397.6 334.90 H418.2" stroke="#3a3a3a" stroke-width="1.05" stroke-linecap="round"/>
<path d="M398.8 336.30 H417.0" stroke="#f4f4f4" stroke-width="1"/>
<path d="M397.6 338.20 H418.2" stroke="#3a3a3a" stroke-width="1.05" stroke-linecap="round"/>
<path d="M398.8 339.60 H417.0" stroke="#f4f4f4" stroke-width="1"/>
<path d="M397.6 341.50 H418.2" stroke="#3a3a3a" stroke-width="1.05" stroke-linecap="round"/>
<path d="M398.8 342.90 H417.0" stroke="#f4f4f4" stroke-width="1"/>
<path d="M397.6 344.80 H418.2" stroke="#3a3a3a" stroke-width="1.05" stroke-linecap="round"/>
<path d="M398.8 346.20 H417.0" stroke="#f4f4f4" stroke-width="1"/>
<path d="M398 160 V346.6 M417.8 160 V346.6" stroke="#666" stroke-width="0.7"/>
<line x1="398" y1="346.6" x2="417.8" y2="346.6" stroke="#555" stroke-width="1"/>
<line x1="398" y1="360" x2="417.8" y2="360" stroke="#555" stroke-width="1"/>
<line x1="398" y1="361.8" x2="417.8" y2="361.8" stroke="#777" stroke-width="0.9"/>
<ellipse cx="524.5" cy="192" rx="19" ry="12" transform="rotate(10 524.5 192)" fill="none" stroke="#333" stroke-width="1.1"/>
<path d="M513 192.5 Q518 200.5 530 200 Q540 198.5 541.8 193.5" fill="none" stroke="#444" stroke-width="0.9"/>
<path d="M512 185.5 Q530 184 541.8 193" fill="none" stroke="#555" stroke-width="0.9"/>
<path d="M501.5 186 V195 Q507.5 198.5 513.5 195 V186" fill="#fff" stroke="#333" stroke-width="1.1"/>
<path d="M501.5 189.5 Q507.5 192 513.5 189.5 M501.5 192.5 Q507.5 195 513.5 192.5" stroke="#444" stroke-width="0.9" fill="none"/>
<path d="M494 176.5 Q494.5 174.5 497.5 175 L503 177.5 V182.5 L497 182 Q494 180 494 176.5 Z" fill="#3a3a3a" stroke="#222" stroke-width="1"/>
<path d="M512.5 180 L518.5 181 Q521.5 182.5 521 184.5 Q519 186.3 512.5 186 Z" fill="#3a3a3a" stroke="#222" stroke-width="1"/>
<ellipse cx="508" cy="182.5" rx="5" ry="4.4" fill="#8a8a8a" stroke="#222" stroke-width="1.1"/>
<ellipse cx="508" cy="182.3" rx="2.2" ry="1.9" fill="#d0d0d0" stroke="#444" stroke-width="0.7"/>
<rect x="518.5" y="252.7" width="31.5" height="15.8" fill="#fff" stroke="#555" stroke-width="1"/>
<path d="M518 235.6 H509 Q503 237 500.5 244 L493.5 248.5 V275.5 L500.5 280 Q503 285 509 285.7 H518 Z" fill="#fff" stroke="#222" stroke-width="1.2"/>
<path d="M497.5 248 V276 M500.5 244 L497.5 248 M500.5 280 L497.5 276" stroke="#888" stroke-width="0.8" fill="none"/>
<path d="M518 239.3 H508 Q503 239.3 503 242.3 Q503 245.3 508 245.3 H518" fill="none" stroke="#222" stroke-width="1.2"/>
<path d="M518 248.0 H506.3 Q501.3 248.0 501.3 253.3 Q501.3 258.6 506.3 258.6 H518" fill="none" stroke="#222" stroke-width="1.2"/>
<path d="M518 250.0 H507.3 Q503.8 250.0 503.8 253.3 Q503.8 256.6 507.3 256.6 H518" fill="none" stroke="#555" stroke-width="0.9"/>
<path d="M518 264.0 H506.3 Q501.3 264.0 501.3 269.3 Q501.3 274.6 506.3 274.6 H518" fill="none" stroke="#222" stroke-width="1.2"/>
<path d="M518 266.0 H507.3 Q503.8 266.0 503.8 269.3 Q503.8 272.6 507.3 272.6 H518" fill="none" stroke="#555" stroke-width="0.9"/>
<path d="M518 277.3 H508 Q503 277.3 503 280.3 Q503 283.3 508 283.3 H518" fill="none" stroke="#222" stroke-width="1.2"/>
<line x1="499" y1="260.7" x2="511" y2="260.7" stroke="#999" stroke-width="0.8"/>
<rect x="525" y="335.8" width="34.8" height="16" fill="#fff" stroke="#555" stroke-width="1"/>
<path d="M514 318.5 H515.5 V316 H524.5 V318.5 H525.5 V369 H524.5 V371.3 H515.5 V369 H514 Z" fill="#fff" stroke="#222" stroke-width="1.2"/>
<path d="M516.5 319 V368.5" stroke="#444" stroke-width="0.9"/>
<path d="M514 325 H517 M522.5 325 H525.5" stroke="#444" stroke-width="0.8"/>
<path d="M514 332 H517 M522.5 332 H525.5" stroke="#444" stroke-width="0.8"/>
<path d="M514 339 H517 M522.5 339 H525.5" stroke="#444" stroke-width="0.8"/>
<path d="M514 345 H517 M522.5 345 H525.5" stroke="#444" stroke-width="0.8"/>
<path d="M514 357.5 H517 M522.5 357.5 H525.5" stroke="#444" stroke-width="0.8"/>
<path d="M514 364 H517 M522.5 364 H525.5" stroke="#444" stroke-width="0.8"/>
<rect x="518.6" y="349.2" width="2.6" height="5.2" rx="1.2" fill="none" stroke="#333" stroke-width="0.9"/>
<path d="M513.5 321.7 H501.5 Q498.3 324 498.3 343.3 Q498.3 362.6 501.5 365 H513.5 Z" fill="#fff" stroke="#222" stroke-width="1.2"/>
<rect x="501.2" y="323" width="5.3" height="41" fill="#8e8e8e"/>
<rect x="509.8" y="323" width="3.7" height="41" fill="#8e8e8e"/>
<path d="M501.2 324 H506.5 M509.8 324 H513.5" stroke="#222" stroke-width="0.75"/>
<path d="M501.2 326 H506.5 M509.8 326 H513.5" stroke="#222" stroke-width="0.75"/>
<path d="M501.2 328 H506.5 M509.8 328 H513.5" stroke="#222" stroke-width="0.75"/>
<path d="M501.2 330 H506.5 M509.8 330 H513.5" stroke="#222" stroke-width="0.75"/>
<path d="M501.2 332 H506.5 M509.8 332 H513.5" stroke="#222" stroke-width="0.75"/>
<path d="M501.2 334 H506.5 M509.8 334 H513.5" stroke="#222" stroke-width="0.75"/>
<path d="M501.2 336 H506.5 M509.8 336 H513.5" stroke="#222" stroke-width="0.75"/>
<path d="M501.2 338 H506.5 M509.8 338 H513.5" stroke="#222" stroke-width="0.75"/>
<path d="M501.2 340 H506.5 M509.8 340 H513.5" stroke="#222" stroke-width="0.75"/>
<path d="M501.2 342 H506.5 M509.8 342 H513.5" stroke="#222" stroke-width="0.75"/>
<path d="M501.2 344 H506.5 M509.8 344 H513.5" stroke="#222" stroke-width="0.75"/>
<path d="M501.2 346 H506.5 M509.8 346 H513.5" stroke="#222" stroke-width="0.75"/>
<path d="M501.2 348 H506.5 M509.8 348 H513.5" stroke="#222" stroke-width="0.75"/>
<path d="M501.2 350 H506.5 M509.8 350 H513.5" stroke="#222" stroke-width="0.75"/>
<path d="M501.2 352 H506.5 M509.8 352 H513.5" stroke="#222" stroke-width="0.75"/>
<path d="M501.2 354 H506.5 M509.8 354 H513.5" stroke="#222" stroke-width="0.75"/>
<path d="M501.2 356 H506.5 M509.8 356 H513.5" stroke="#222" stroke-width="0.75"/>
<path d="M501.2 358 H506.5 M509.8 358 H513.5" stroke="#222" stroke-width="0.75"/>
<path d="M501.2 360 H506.5 M509.8 360 H513.5" stroke="#222" stroke-width="0.75"/>
<path d="M501.2 362 H506.5 M509.8 362 H513.5" stroke="#222" stroke-width="0.75"/>
<path d="M501.2 323 V364 M506.5 323 V364 M509.8 323 V364" stroke="#333" stroke-width="0.8"/>
<path d="M498.5 331.3 H495 Q492 331.3 492 336 V349.5 Q492 354 495 354 H498.5" fill="#fff" stroke="#222" stroke-width="1.2"/>
<path d="M494.3 333 V352.5" stroke="#666" stroke-width="0.8" fill="none"/>
<path d="M492.2 340 h1.5 M492.2 345 h1.5" stroke="#333" stroke-width="0.9" fill="none"/>
<line x1="120" y1="49.3" x2="231" y2="49.3" stroke="#888" stroke-width="1.1"/>
<line x1="117" y1="71.8" x2="231" y2="71.8" stroke="#888" stroke-width="1.1"/>
<line x1="153" y1="103" x2="200" y2="103" stroke="#888" stroke-width="1.1"/>
<line x1="151" y1="140" x2="232.5" y2="140" stroke="#888" stroke-width="1.1"/>
<line x1="154" y1="178.6" x2="225" y2="178.6" stroke="#888" stroke-width="1.1"/>
<line x1="157" y1="234" x2="230.6" y2="234" stroke="#888" stroke-width="1.1"/>
<line x1="174.3" y1="325.5" x2="226.4" y2="325.5" stroke="#888" stroke-width="1.1"/>
<line x1="151.5" y1="368.2" x2="226" y2="368.2" stroke="#888" stroke-width="1.1"/>
<line x1="136.4" y1="309.3" x2="189.6" y2="309.3" stroke="#888" stroke-width="1.1"/>
<line x1="30" y1="362.2" x2="76.8" y2="362.2" stroke="#888" stroke-width="1.1"/>
<path d="M239.81 55.70 H238.40 V46.74 Q237.90 47.22 237.08 47.71 Q236.26 48.19 235.60 48.44 V47.08 Q236.78 46.52 237.66 45.73 Q238.54 44.94 238.91 44.20 H239.81 Z" fill="#222"/>
<text x="234.00" y="77.0" font-family="Liberation Sans, sans-serif" font-size="16" fill="#222">2</text>
<text x="233.50" y="100.5" font-family="Liberation Sans, sans-serif" font-size="16" fill="#222">3</text>
<text x="233.80" y="118.7" font-family="Liberation Sans, sans-serif" font-size="16" fill="#222">4</text>
<text x="234.70" y="145.5" font-family="Liberation Sans, sans-serif" font-size="16" fill="#222">5</text>
<text x="234.60" y="184.4" font-family="Liberation Sans, sans-serif" font-size="16" fill="#222">6</text>
<path d="M237.61 240.50 H236.20 V231.54 Q235.70 232.02 234.88 232.51 Q234.06 232.99 233.40 233.24 V231.88 Q234.58 231.32 235.46 230.53 Q236.34 229.74 236.71 229.00 H237.61 Z" fill="#222"/>
<text x="240.55" y="240.5" font-family="Liberation Sans, sans-serif" font-size="16" fill="#222">4</text>
<text x="249.45" y="240.5" font-family="Liberation Sans, sans-serif" font-size="16" fill="#222">/</text>
<text x="253.90" y="240.5" font-family="Liberation Sans, sans-serif" font-size="16" fill="#222">7</text>
<path d="M237.21 332.00 H235.80 V323.04 Q235.30 323.52 234.48 324.01 Q233.66 324.49 233.00 324.74 V323.38 Q234.18 322.82 235.06 322.03 Q235.94 321.24 236.31 320.50 H237.21 Z" fill="#222"/>
<path d="M246.11 332.00 H244.70 V323.04 Q244.20 323.52 243.38 324.01 Q242.56 324.49 241.90 324.74 V323.38 Q243.08 322.82 243.96 322.03 Q244.84 321.24 245.21 320.50 H246.11 Z" fill="#222"/>
<text x="231.00" y="373.7" font-family="Liberation Sans, sans-serif" font-size="16" fill="#222">8</text>
<text x="330.90" y="401.7" font-family="Liberation Sans, sans-serif" font-size="16" fill="#222">9</text>
<path d="M403.21 403.70 H401.80 V394.74 Q401.30 395.22 400.48 395.71 Q399.66 396.19 399.00 396.44 V395.08 Q400.18 394.52 401.06 393.73 Q401.94 392.94 402.31 392.20 H403.21 Z" fill="#222"/>
<text x="406.15" y="403.7" font-family="Liberation Sans, sans-serif" font-size="16" fill="#222">5</text>
<path d="M567.71 193.70 H566.30 V184.74 Q565.80 185.22 564.98 185.71 Q564.16 186.19 563.50 186.44 V185.08 Q564.68 184.52 565.56 183.73 Q566.44 182.94 566.81 182.20 H567.71 Z" fill="#222"/>
<text x="570.65" y="193.7" font-family="Liberation Sans, sans-serif" font-size="16" fill="#222">0</text>
<path d="M567.21 265.10 H565.80 V256.14 Q565.30 256.62 564.48 257.11 Q563.66 257.59 563.00 257.84 V256.48 Q564.18 255.92 565.06 255.13 Q565.94 254.34 566.31 253.60 H567.21 Z" fill="#222"/>
<text x="570.15" y="265.1" font-family="Liberation Sans, sans-serif" font-size="16" fill="#222">2</text>
<path d="M571.91 347.80 H570.50 V338.84 Q570.00 339.32 569.18 339.81 Q568.36 340.29 567.70 340.54 V339.18 Q568.88 338.62 569.76 337.83 Q570.64 337.04 571.01 336.30 H571.91 Z" fill="#222"/>
<text x="574.85" y="347.8" font-family="Liberation Sans, sans-serif" font-size="16" fill="#222">3</text>
</svg></body></html>
